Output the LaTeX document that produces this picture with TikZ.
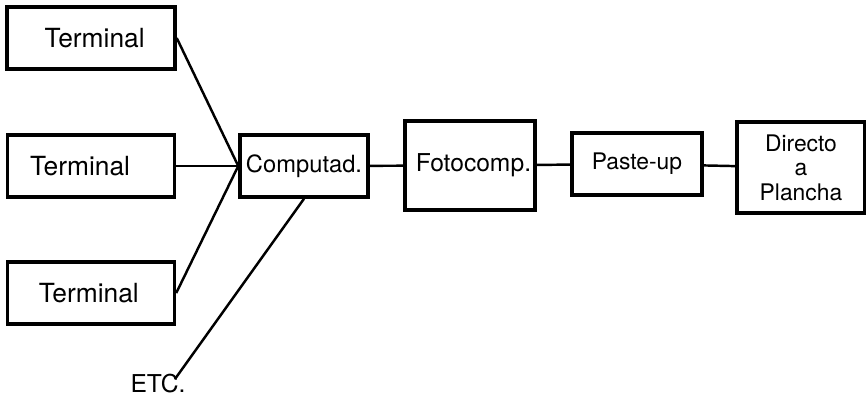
\documentclass[tikz,border=0pt]{standalone}
\usepackage{fontspec}
\setmainfont{TeX Gyre Heros}
\usetikzlibrary{positioning}

\begin{document}
\begin{tikzpicture}[
    x=0.02cm, y=-0.02cm,
    box node/.style={rectangle,draw,line width=2pt,inner sep=0pt,font=\fontsize{15}{18}\selectfont},
    link/.style={line width=1.4pt}
]
\useasboundingbox (0,0) rectangle (866,397);

% Terminals
\node[box node,minimum width=3.36cm,minimum height=1.24cm] (term1) at (91,38) {\ Terminal};
\node[box node,minimum width=3.34cm,minimum height=1.24cm] (term2) at (91,166) {Terminal\ \ \ \ };
\node[box node,minimum width=3.34cm,minimum height=1.24cm] (term3) at (91,293) {Terminal\,};
\node[inner sep=0pt,font=\fontsize{14}{17}\selectfont] (etc) at (158,384) {ETC.};
\coordinate (etcend) at (175,379);

% Chain
\node[box node,minimum width=2.56cm,minimum height=1.24cm,font=\fontsize{13.5}{16}\selectfont] (comp) at (304,166) {Computad.};
\node[box node,minimum width=2.6cm,minimum height=1.78cm,font=\fontsize{14}{16}\selectfont] (foto) at (470,165.5) {\ Fotocomp.};
\node[box node,minimum width=2.6cm,minimum height=1.24cm,font=\fontsize{13}{16}\selectfont] (paste) at (637,164) {Paste-up};
\node[box node,minimum width=2.56cm,minimum height=1.82cm,align=center,font=\fontsize{13}{14}\selectfont] (direct) at (801,167.5) {Directo\\a\\Plancha};

% Lines
\draw[link] (term1.east) -- (comp.west);
\draw[link] (term2.east) -- (comp.west);
\draw[link] (term3.east) -- (comp.west);
\draw[link] (comp.south) -- (etcend);
\draw[link] (comp) -- (foto);
\draw[link] (foto) -- (paste);
\draw[link] (paste) -- (direct);

\end{tikzpicture}
\end{document}
